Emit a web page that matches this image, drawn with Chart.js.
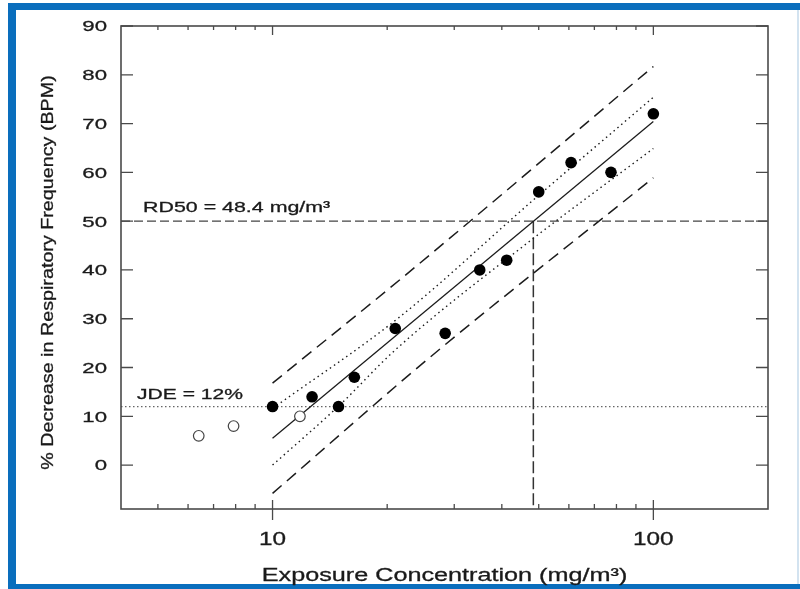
<!DOCTYPE html>
<html lang="en">
<head>
    <meta charset="UTF-8">
    <title>RD50</title>
    <script src="https://cdn.jsdelivr.net/npm/chart.js@4.4.1/dist/chart.umd.min.js"></script>
    <style>
        body { margin: 0; background: #fff; }
        .band { position: absolute; background: #0a6ebd; }
        #chart { position: absolute; left: 0; top: 0; }
    </style>
</head>
<body>
    <div class="band" style="left:8px;top:3px;width:792px;height:7px"></div>
    <div class="band" style="left:8px;top:3px;width:8px;height:586px"></div>
    <div class="band" style="left:8px;top:584px;width:792px;height:5px"></div>
    <div class="band" style="left:797px;top:10px;width:2px;height:574px;background:#d3e3f0"></div>
    <canvas id="chart" width="800" height="589"></canvas>

    <script>
        // responding animals (filled) and non-responding exposures (open)
        var respX = [10, 12.7, 14.9, 16.4, 21, 28.4, 35, 41.2, 50, 60.8, 77.4, 100];
        var respY = [12, 14, 12, 18, 28, 27, 40, 42, 56, 62, 60, 72];
        var lowX = [6.4, 7.9, 11.8];
        var lowY = [6, 8, 10];

        // regression line and bands
        var fitX = [10, 100];
        var fitY = [5.5, 70.4];
        var ciUpperX = [10, 21.6, 48.5, 100];
        var ciUpperY = [11.6, 30.4, 54.4, 75.4];
        var ciLowerX = [10, 15, 21, 47, 100];
        var ciLowerY = [0, 12.3, 23.6, 45.7, 64.9];
        var piUpperX = [10, 21.6, 100];
        var piUpperY = [16.8, 38.0, 81.7];
        var piLowerX = [10, 26, 100];
        var piLowerY = [-5.8, 22.2, 58.9];

        var rd50 = 48.4;
        var rdLevel = 50;
        var jde = 12;

        var xMin = 4, xMax = 200, yMin = -9, yMax = 90;
        var xMajorTicks = [10, 100];
        var xMinorTicks = [5, 6, 7, 8, 9, 20, 30, 40, 50, 60, 70, 80, 90];
        var yTicks = [0, 10, 20, 30, 40, 50, 60, 70, 80, 90];

        function pts(xs, ys) {
            return xs.map(function(x, i) { return {x: x, y: ys[i]}; });
        }

        function lineSet(data, dash, width, color, smooth) {
            return {
                data: data,
                showLine: true,
                pointRadius: 0,
                borderColor: color || '#1c1c1c',
                borderWidth: width,
                borderDash: dash,
                fill: false,
                cubicInterpolationMode: smooth ? 'monotone' : 'default',
                tension: 0
            };
        }

        function txt(ctx, s, x, y, size, sx, align, rot) {
            ctx.save();
            ctx.translate(x, y);
            if (rot) ctx.rotate(rot);
            ctx.scale(sx, 1);
            ctx.font = size + 'px "Liberation Sans", Arial, sans-serif';
            ctx.fillStyle = '#1a1a1a';
            ctx.strokeStyle = '#1a1a1a';
            ctx.lineWidth = 0.3;
            ctx.textAlign = align;
            ctx.textBaseline = 'alphabetic';
            ctx.fillText(s, 0, 0);
            ctx.strokeText(s, 0, 0);
            ctx.restore();
        }

        var frame = {
            id: 'frame',
            afterDraw: function(chart) {
                var ctx = chart.ctx, xs = chart.scales.x, ys = chart.scales.y;
                var a = chart.chartArea;
                ctx.save();
                ctx.strokeStyle = '#4a4a4a';
                ctx.lineWidth = 1.6;
                ctx.strokeRect(a.left, a.top, a.right - a.left, a.bottom - a.top);

                ctx.lineWidth = 1.3;
                ctx.beginPath();
                yTicks.forEach(function(v) {
                    var p = ys.getPixelForValue(v);
                    ctx.moveTo(a.left, p); ctx.lineTo(a.left + 12, p);
                    ctx.moveTo(a.right, p); ctx.lineTo(a.right - 12, p);
                });
                xMinorTicks.forEach(function(v) {
                    var p = xs.getPixelForValue(v);
                    ctx.moveTo(p, a.bottom); ctx.lineTo(p, a.bottom - 5);
                    ctx.moveTo(p, a.top); ctx.lineTo(p, a.top + 4);
                });
                xMajorTicks.forEach(function(v) {
                    var p = xs.getPixelForValue(v);
                    ctx.moveTo(p, a.bottom - 9); ctx.lineTo(p, a.bottom + 11);
                    ctx.moveTo(p, a.top); ctx.lineTo(p, a.top + 9);
                });
                ctx.stroke();
                ctx.restore();

                yTicks.forEach(function(v) {
                    txt(ctx, String(v), 107, ys.getPixelForValue(v) + 5.4, 15, 1.48, 'right');
                });
                xMajorTicks.forEach(function(v) {
                    txt(ctx, String(v), xs.getPixelForValue(v), 545, 18, 1.35, 'center');
                });
                txt(ctx, 'Exposure Concentration (mg/m\u00b3)', (a.left + a.right) / 2, 581, 18, 1.4, 'center');
                txt(ctx, '% Decrease in Respiratory Frequency (BPM)', 53, (a.top + a.bottom) / 2 + 5, 17, 1.16, 'center', -Math.PI / 2);

                txt(ctx, 'RD50 = ' + rd50 + ' mg/m\u00b3', 143, ys.getPixelForValue(rdLevel) - 9, 15.5, 1.38, 'left');
                txt(ctx, 'JDE = ' + jde + '%', 137, ys.getPixelForValue(jde) - 8, 15.5, 1.36, 'left');
            }
        };

        var ctx = document.getElementById('chart').getContext('2d');
        new Chart(ctx, {
            type: 'scatter',
            data: {
                datasets: [
                    {
                        data: pts(respX, respY),
                        pointRadius: 5.8,
                        backgroundColor: '#000',
                        borderColor: '#000',
                        borderWidth: 0
                    },
                    {
                        data: pts(lowX, lowY),
                        pointRadius: 5.3,
                        backgroundColor: '#fff',
                        borderColor: '#444',
                        borderWidth: 1.2
                    },
                    lineSet(pts(fitX, fitY), [], 1.3),
                    lineSet(pts(ciUpperX, ciUpperY), [1.5, 3.5], 1.4, null, true),
                    lineSet(pts(ciLowerX, ciLowerY), [1.5, 3.5], 1.4, null, true),
                    lineSet(pts(piUpperX, piUpperY), [12, 7], 1.5, null, true),
                    lineSet(pts(piLowerX, piLowerY), [12, 7], 1.5, null, true),
                    lineSet(pts([xMin, xMax], [rdLevel, rdLevel]), [9, 4], 1.4, '#444'),
                    lineSet(pts([rd50, rd50], [rdLevel, yMin]), [12, 4], 1.5, '#333'),
                    lineSet(pts([xMin, xMax], [jde, jde]), [1.5, 2.5], 1.3, '#666')
                ]
            },
            options: {
                responsive: false,
                animation: false,
                events: [],
                layout: { padding: { left: 121, right: 32, top: 26, bottom: 80 } },
                plugins: { legend: { display: false }, tooltip: { enabled: false } },
                scales: {
                    x: { type: 'logarithmic', min: xMin, max: xMax, display: false },
                    y: { type: 'linear', min: yMin, max: yMax, display: false }
                }
            },
            plugins: [frame]
        });
    </script>
</body>
</html>
